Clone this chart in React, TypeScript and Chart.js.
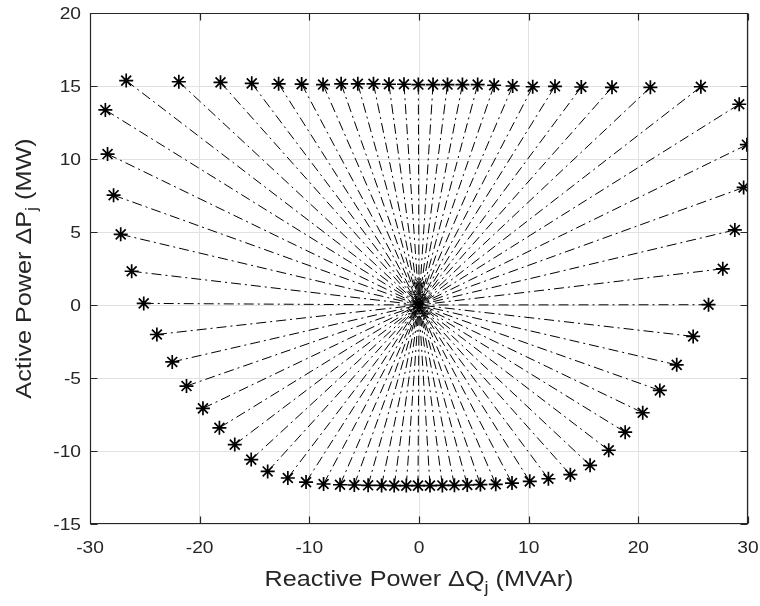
import React, { useEffect, useRef } from 'react';
import { Chart, registerables } from 'chart.js';

Chart.register(...registerables);

// Outer star points (Reactive power ΔQ, Active power ΔP)
const outerQ = [
  -28.6, -28.4, -27.85, -27.2, -26.2, -25.1, -23.9, -22.5, -21.2, -19.7, -18.2, -16.8, -15.3, -13.8,
  -11.96, -10.3, -8.7, -7.2, -5.9, -4.64, -3.41, -2.26, -1.16, -0.09, 1.0, 2.13, 3.23, 4.4, 5.6, 7.0,
  8.48, 10.1, 11.8, 13.8, 15.6, 17.3, 18.8, 20.4, 21.96, 23.5, 25.0, 26.4, 27.7, 28.8, 29.6, 29.9,
  29.2, 25.7, 21.1, 17.6, 14.8, 12.4, 10.37, 8.54, 6.85, 5.35, 3.96, 2.6, 1.28, -0.06, -1.37, -2.74,
  -4.15, -5.58, -7.1, -8.75, -10.7, -12.8, -15.25, -18.1, -21.9, -26.7,
];
const outerP = [
  13.36, 10.34, 7.52, 4.84, 2.31, 0.11, -2.02, -3.9, -5.55, -7.08, -8.41, -9.56, -10.59, -11.4,
  -11.85, -12.13, -12.26, -12.31, -12.33, -12.35, -12.36, -12.37, -12.37, -12.37, -12.37, -12.36,
  -12.35, -12.33, -12.3, -12.28, -12.2, -12.08, -11.9, -11.62, -10.98, -9.95, -8.71, -7.38, -5.85,
  -4.1, -2.15, 0.02, 2.48, 5.14, 8.05, 10.98, 13.75, 14.95, 14.91, 14.91, 14.93, 14.98, 14.95, 15.0,
  15.05, 15.1, 15.1, 15.1, 15.1, 15.1, 15.12, 15.12, 15.15, 15.15, 15.15, 15.1, 15.13, 15.15, 15.18,
  15.25, 15.29, 15.37,
];
// Stars clustered at the operating point
const centerQ = [0, 0, 0, -0.45, 0.45, -0.3, 0.3];
const centerP = [1.5, 0.7, -0.2, -0.6, -0.6, 0.2, 0.2];
const originQ = 0;
const originP = 0;

const xTicks = [-30, -20, -10, 0, 10, 20, 30];
const yTicks = [-15, -10, -5, 0, 5, 10, 15, 20];
const xTitle = ['Reactive Power \u0394Q', 'j', ' (MVAr)'];
const yTitle = ['Active Power \u0394P', 'j', ' (MW)'];

const FONT = '"Liberation Sans", Arial, Helvetica, sans-serif';
const STRETCH = 1.2;

function drawRich(ctx: CanvasRenderingContext2D, parts: string[], size: number, subSize: number, subDrop: number) {
  ctx.font = `${size}px ${FONT}`;
  const w0 = ctx.measureText(parts[0]).width;
  const w2 = ctx.measureText(parts[2]).width;
  ctx.font = `${subSize}px ${FONT}`;
  const w1 = ctx.measureText(parts[1]).width;
  const total = w0 + w1 + w2;
  let xx = -total / 2;
  ctx.textAlign = 'left';
  ctx.textBaseline = 'alphabetic';
  ctx.font = `${size}px ${FONT}`;
  ctx.fillText(parts[0], xx, 0);
  xx += w0;
  ctx.font = `${subSize}px ${FONT}`;
  ctx.fillText(parts[1], xx, subDrop);
  xx += w1;
  ctx.font = `${size}px ${FONT}`;
  ctx.fillText(parts[2], xx, 0);
}

const framePlugin = {
  id: 'frame',
  afterDraw(chart: any) {
    const { ctx, chartArea: a, scales } = chart;
    const sx = scales.x;
    const sy = scales.y;
    ctx.save();
    ctx.strokeStyle = '#262626';
    ctx.lineWidth = 1.2;
    const L = Math.round(a.left) + 0.5;
    const R = Math.round(a.right) - 0.5;
    const T = Math.round(a.top) + 0.5;
    const B = Math.round(a.bottom) - 0.5;
    ctx.beginPath();
    ctx.rect(L, T, R - L, B - T);
    const tl = 7;
    xTicks.forEach((v) => {
      const px = Math.round(sx.getPixelForValue(v)) + 0.5;
      ctx.moveTo(px, B);
      ctx.lineTo(px, B - tl);
      ctx.moveTo(px, T);
      ctx.lineTo(px, T + tl);
    });
    yTicks.forEach((v) => {
      const py = Math.round(sy.getPixelForValue(v)) + 0.5;
      ctx.moveTo(L, py);
      ctx.lineTo(L + tl, py);
      ctx.moveTo(R, py);
      ctx.lineTo(R - tl, py);
    });
    ctx.stroke();

    ctx.fillStyle = '#262626';
    ctx.font = `16px ${FONT}`;
    ctx.textBaseline = 'alphabetic';
    xTicks.forEach((v) => {
      const px = sx.getPixelForValue(v);
      ctx.save();
      ctx.translate(px, 553);
      ctx.scale(STRETCH, 1.05);
      ctx.textAlign = 'center';
      ctx.fillText(String(v), 0, 0);
      ctx.restore();
    });
    yTicks.forEach((v) => {
      const py = sy.getPixelForValue(v);
      ctx.save();
      ctx.translate(a.left - 9, py + 6);
      ctx.scale(STRETCH, 1.05);
      ctx.textAlign = 'right';
      ctx.fillText(String(v), 0, 0);
      ctx.restore();
    });

    // x title
    ctx.save();
    ctx.translate((a.left + a.right) / 2, 586);
    ctx.scale(STRETCH, 1.05);
    drawRich(ctx, xTitle, 21, 15, 7);
    ctx.restore();

    // y title
    ctx.save();
    ctx.translate(31, (a.top + a.bottom) / 2);
    ctx.rotate(-Math.PI / 2);
    ctx.scale(STRETCH, 1.05);
    drawRich(ctx, yTitle, 21, 15, 6);
    ctx.restore();

    ctx.restore();
  },
};

export default function App() {
  const ref = useRef<HTMLCanvasElement | null>(null);
  useEffect(() => {
    document.body.style.margin = '0';
    const canvas = ref.current;
    if (!canvas) return;
    const lineSets = outerQ.map((q, i) => ({
      type: 'scatter' as const,
      data: [
        { x: q, y: outerP[i] },
        { x: originQ, y: originP },
      ],
      showLine: true,
      borderColor: '#000',
      borderWidth: 1,
      borderDash: [10, 4, 2, 4],
      pointStyle: 'star',
      pointRadius: [7, 0],
      pointHoverRadius: [7, 0],
      pointBorderColor: '#000',
      pointBackgroundColor: '#000',
      pointBorderWidth: 1.7,
    }));
    const centerSet = {
      type: 'scatter' as const,
      data: centerQ.map((q, i) => ({ x: q, y: centerP[i] })),
      showLine: false,
      pointStyle: 'star',
      pointRadius: 6,
      pointBorderColor: '#222',
      pointBackgroundColor: '#222',
      pointBorderWidth: 1.1,
    };
    const chart = new Chart(canvas, {
      type: 'scatter',
      data: { datasets: [...lineSets, centerSet] as any },
      options: {
        animation: false,
        responsive: false,
        devicePixelRatio: 1,
        layout: { padding: { top: 13, right: 12, left: 0, bottom: 0 } },
        plugins: { legend: { display: false }, tooltip: { enabled: false } },
        scales: {
          x: {
            type: 'linear',
            min: -30,
            max: 30,
            ticks: { display: false, stepSize: 10 },
            grid: { color: '#e2e2e2', lineWidth: 1, drawTicks: false },
            border: { display: false },
            afterFit: (s: any) => {
              s.height = 82;
            },
          },
          y: {
            type: 'linear',
            min: -15,
            max: 20,
            ticks: { display: false, stepSize: 5 },
            grid: { color: '#e2e2e2', lineWidth: 1, drawTicks: false },
            border: { display: false },
            afterFit: (s: any) => {
              s.width = 90;
            },
          },
        },
      },
      plugins: [framePlugin],
    });
    return () => chart.destroy();
  }, []);
  return (
    <div style={{ width: 760, height: 606, background: '#fff' }}>
      <canvas ref={ref} width={760} height={606} style={{ display: 'block' }} />
    </div>
  );
}
